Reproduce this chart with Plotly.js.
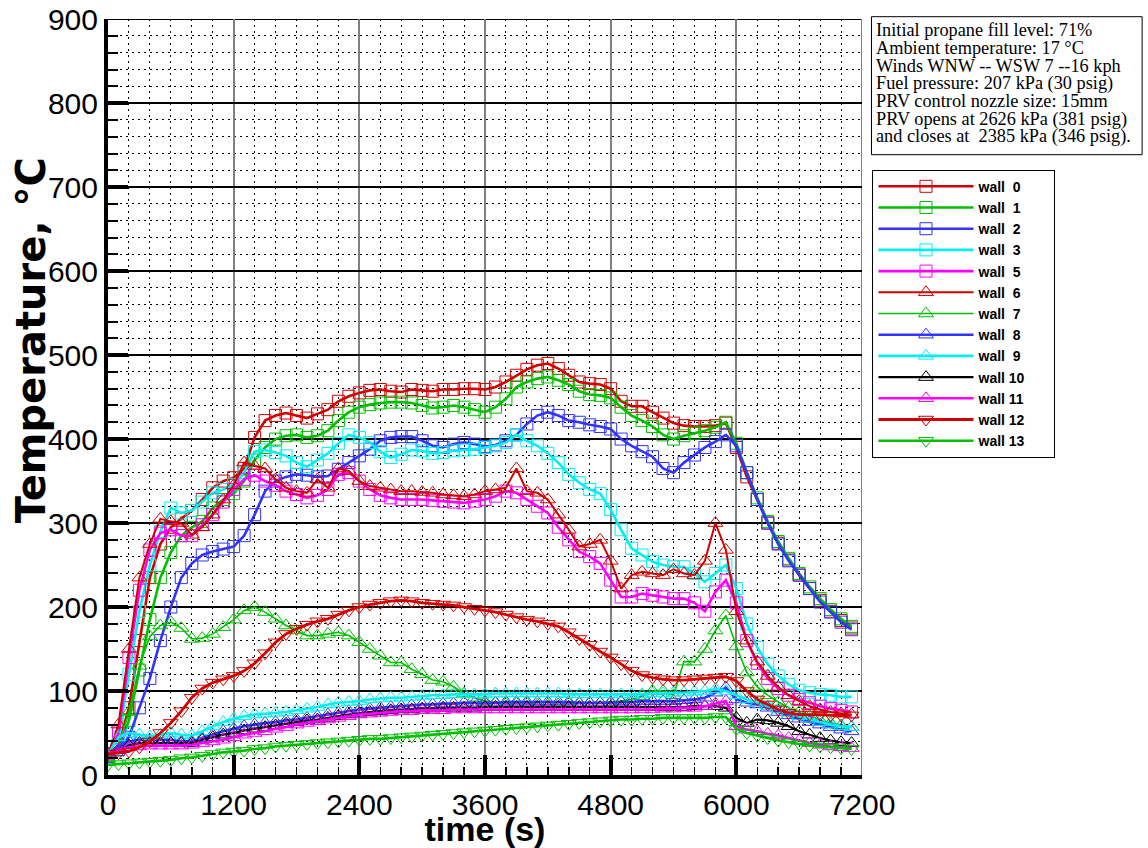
<!DOCTYPE html>
<html>
<head>
<meta charset="utf-8">
<script src="https://cdn.plot.ly/plotly-3.0.1.min.js"></script>
<style>
  html, body { margin: 0; padding: 0; background: #fff; }
  #chart { width: 1148px; height: 848px; }
</style>
</head>
<body>
<div id="chart"></div>
<script>
// Sample times (s), one reading every 100 s
const time = [];
for (let i = 0; i < 72; i++) time.push(i * 100);

// Wall thermocouple temperatures (°C)
const wall0 = [25,35,80,160,235,275,295,305,315,328,342,350,354,365,402,422,428,431,428,425,430,435,445,451,455,458,459,457,456,459,458,457,459,459,460,460,459,462,468,476,483,488,490,484,476,468,466,465,460,445,439,439,432,425,419,416,415,415,416,419,390,355,328,300,276,256,238,222,208,195,184,175];
const wall1 = [22,30,65,125,185,235,265,285,295,302,318,328,335,350,375,390,400,404,405,402,404,410,422,432,438,441,443,444,444,443,440,437,438,440,438,435,432,438,448,462,468,472,474,470,465,457,453,452,449,438,428,422,415,405,400,404,407,410,414,420,395,360,330,302,278,258,240,224,210,197,186,177];
const wall2 = [22,30,45,80,115,160,200,235,252,262,266,269,272,285,310,338,350,355,358,357,355,356,364,372,380,388,398,402,403,403,398,392,390,394,396,394,391,393,398,405,418,428,432,428,422,420,417,415,412,400,392,385,379,365,360,372,381,390,397,405,392,360,328,300,275,255,238,222,206,194,182,173];
const wall3 = [25,45,120,195,250,290,318,312,315,325,336,340,346,360,385,387,384,380,372,367,375,383,395,405,402,396,385,378,382,387,386,383,384,386,387,388,390,392,396,405,398,392,383,372,358,348,340,335,316,292,270,262,254,250,248,248,240,230,240,250,222,180,152,132,118,108,101,98,96,95,93,93];
const wall5 = [25,50,140,220,268,288,292,285,285,298,310,325,340,352,357,350,345,338,334,330,333,340,358,360,350,340,333,330,328,328,328,327,326,325,324,326,328,332,338,336,328,320,312,295,280,266,260,252,232,212,212,216,214,212,210,210,205,195,218,232,205,160,133,115,103,95,90,86,82,79,77,75];
const wall6 = [25,60,150,235,275,305,302,300,286,295,310,328,345,372,368,365,352,342,338,336,352,342,365,362,350,344,342,340,338,338,337,336,334,333,332,334,338,340,342,365,338,336,328,310,292,272,275,280,255,222,238,242,240,238,245,240,238,255,300,268,195,160,135,118,105,95,88,82,78,75,73,72];
const wall7 = [20,35,75,130,165,178,182,175,162,163,168,176,185,196,200,194,186,178,172,166,166,168,170,166,158,150,142,134,134,126,120,113,111,105,97,92,88,86,85,85,85,84,84,84,85,85,86,86,87,88,90,94,100,100,95,135,135,150,172,190,153,122,105,95,87,80,75,70,65,62,59,57];
const wall8 = [25,35,40,42,42,42,42,40,40,44,48,52,55,58,60,62,63,65,66,68,70,72,74,76,78,79,80,81,82,83,84,84,85,85,86,86,86,86,87,87,87,87,87,87,87,86,86,86,86,87,87,88,88,88,88,89,90,92,98,104,90,86,84,80,75,71,67,63,60,57,54,52];
const wall9 = [25,45,50,48,46,48,50,48,47,52,58,63,67,70,72,73,74,75,77,79,81,84,86,87,88,90,91,92,92,93,94,95,95,96,96,96,96,97,97,97,97,97,97,97,96,96,96,96,96,96,96,96,97,97,98,98,99,100,102,100,95,90,86,82,78,74,70,67,63,60,58,57];
const wall10 = [25,30,35,38,38,38,38,38,38,42,45,48,50,53,55,57,59,61,63,65,66,68,70,72,73,75,76,77,78,78,79,79,80,80,80,80,81,81,81,81,81,81,81,81,81,81,81,81,81,81,81,81,81,81,81,81,82,82,82,80,68,62,66,65,62,58,52,48,44,41,39,38];
const wall11 = [25,30,33,34,35,35,35,35,36,38,40,42,45,48,50,52,55,57,60,62,64,66,68,70,72,73,74,75,76,76,77,77,77,78,78,78,78,78,78,78,78,78,78,78,78,78,78,78,78,78,78,78,78,79,79,80,80,82,85,88,58,54,52,49,47,44,41,38,36,34,33,32];
const wall12 = [25,26,28,33,40,50,62,76,92,103,110,114,118,124,133,145,158,168,174,179,183,186,191,196,200,203,205,207,208,207,205,204,203,202,200,198,196,194,191,188,185,183,180,177,170,162,155,147,140,132,124,119,116,114,113,113,114,115,116,117,112,100,90,84,78,74,72,72,72,71,71,71];
const wall13 = [12,13,14,15,16,17,18,20,21,23,25,27,28,29,31,32,34,35,36,37,38,39,40,41,42,43,43,44,45,46,47,48,49,50,51,52,53,54,55,56,57,58,59,60,61,62,63,64,65,66,66,67,67,68,68,68,68,68,69,69,55,50,47,44,41,39,37,35,34,33,32,31];

// Legend labels (non-breaking spaces keep the digits lined up), colours and marker shapes
const PAD = '\u00a0\u00a0\u00a0\u00a0\u00a0\u00a0';
const labels = ['wall\u00a0\u00a00','wall\u00a0\u00a01','wall\u00a0\u00a02','wall\u00a0\u00a03','wall\u00a0\u00a05',
  'wall\u00a0\u00a06','wall\u00a0\u00a07','wall\u00a0\u00a08','wall\u00a0\u00a09','wall 10','wall 11','wall 12','wall 13'].map(s => s + PAD);
const series = [wall0, wall1, wall2, wall3, wall5, wall6, wall7, wall8, wall9, wall10, wall11, wall12, wall13];

const RED = '#d40000', GREEN = '#00c000', BLUE = '#3333ff', CYAN = '#00f0f0', MAGENTA = '#ff00ff', BLACK = '#000000';
const colors = [RED, GREEN, BLUE, CYAN, MAGENTA, RED, GREEN, BLUE, CYAN, BLACK, MAGENTA, RED, GREEN];
const symbols = ['square-open','square-open','square-open','square-open','square-open',
  'triangle-up-open','triangle-up-open','triangle-up-open','triangle-up-open','triangle-up-open','triangle-up-open',
  'triangle-down-open','triangle-down-open'];
const widths = [2.6,2.6,2.6,2.6,2.6,2,1.6,2.6,2.6,2.2,2.6,2.8,2.6];

const traces = series.map((y, i) => ({
  type: 'scatter',
  mode: 'lines+markers',
  name: labels[i],
  x: time,
  y: y,
  line: { color: colors[i], width: widths[i] },
  marker: { symbol: symbols[i], size: symbols[i] === 'square-open' ? 12 : 13, color: colors[i], line: { width: 1, color: colors[i] } }
}));

// Test conditions printed in the upper-right box
const notes = [
  'Initial propane fill level: 71%',
  'Ambient temperature: 17 °C',
  'Winds WNW -- WSW 7 --16 kph',
  'Fuel pressure: 207 kPa (30 psig)',
  'PRV control nozzle size: 15mm',
  'PRV opens at 2626 kPa (381 psig)',
  'and closes at\u00a0 2385 kPa (346 psig).'
];

const W = 1148, H = 848;
const L = 107.5, R = 862.5, T = 19.3, B = 775.3;
const px2x = p => (p - L) / (R - L);
const px2y = p => (B - p) / (B - T);

const annotations = notes.map((s, i) => ({
  xref: 'paper', yref: 'paper',
  x: px2x(875), y: px2y(30.5 + i * 17.8),
  xanchor: 'left', yanchor: 'middle',
  text: s, showarrow: false,
  font: { family: 'Liberation Serif, Times New Roman, serif', size: 18.3, color: '#000' }
}));

// Vertical axis title, placed as a rotated label
annotations.push({
  xref: 'paper', yref: 'paper',
  x: px2x(30), y: px2y(341),
  xanchor: 'center', yanchor: 'middle',
  text: 'Temperature, °C', textangle: -90, showarrow: false,
  font: { family: 'DejaVu Sans, Liberation Sans, Arial, sans-serif', size: 40, color: '#000', weight: 'bold' }
});

const tickFont = { family: 'Liberation Sans, Arial, sans-serif', size: 30, color: '#000' };
const titleFont = { family: 'Liberation Sans, Arial, sans-serif', size: 34, color: '#000', weight: 'bold' };

const layout = {
  width: W, height: H,
  margin: { l: L, r: W - R, t: T, b: H - B, pad: 0 },
  paper_bgcolor: '#fff', plot_bgcolor: '#fff',
  showlegend: true,
  legend: {
    x: px2x(873), y: px2y(170), xanchor: 'left', yanchor: 'top',
    bordercolor: '#000', borderwidth: 1, bgcolor: '#fff',
    font: { family: 'Liberation Sans, Arial, sans-serif', size: 14, color: '#000', weight: 'bold' },
    itemwidth: 95, tracegroupgap: 0
  },
  xaxis: {
    range: [0, 7200], tick0: 0, dtick: 1200, tickmode: 'linear',
    ticks: 'inside', ticklen: 20, tickwidth: 4, tickcolor: '#000',
    showline: true, linewidth: 4, linecolor: '#000', mirror: false,
    showgrid: true, gridcolor: '#808080', gridwidth: 2,
    zeroline: false,
    tickfont: tickFont,
    title: { text: 'time (s)', font: titleFont, standoff: 3 },
    minor: { dtick: 200, ticks: 'inside', ticklen: 8, tickwidth: 1.5, tickcolor: '#000',
             showgrid: true, gridcolor: '#000', gridwidth: 1, griddash: '2px,4px' }
  },
  yaxis: {
    range: [0, 900.2], tick0: 0, dtick: 100, tickmode: 'linear',
    ticks: 'inside', ticklen: 20, tickwidth: 4, tickcolor: '#000',
    showline: true, linewidth: 4, linecolor: '#000', mirror: false,
    showgrid: true, gridcolor: '#000', gridwidth: 1.5,
    zeroline: false,
    tickfont: tickFont,
    minor: { dtick: 20, ticks: 'inside', ticklen: 10, tickwidth: 2, tickcolor: '#000',
             showgrid: true, gridcolor: '#000', gridwidth: 1, griddash: '2px,4px' }
  },
  shapes: [
    { type: 'line', xref: 'paper', yref: 'y', x0: 0, x1: 1, y0: 900, y1: 900, line: { color: '#000', width: 1.5 }, layer: 'below' },
    { type: 'line', xref: 'x', yref: 'paper', x0: 7200, x1: 7200, y0: 0, y1: 1, line: { color: '#808080', width: 2 }, layer: 'below' },
    { type: 'rect', xref: 'paper', yref: 'paper', x0: px2x(872), x1: px2x(1143), y0: px2y(155), y1: px2y(17), line: { color: '#000', width: 1 }, fillcolor: 'rgba(0,0,0,0)' }
  ],
  annotations: annotations
};

Plotly.newPlot('chart', traces, layout, { displayModeBar: false, staticPlot: true });
</script>
</body>
</html>
